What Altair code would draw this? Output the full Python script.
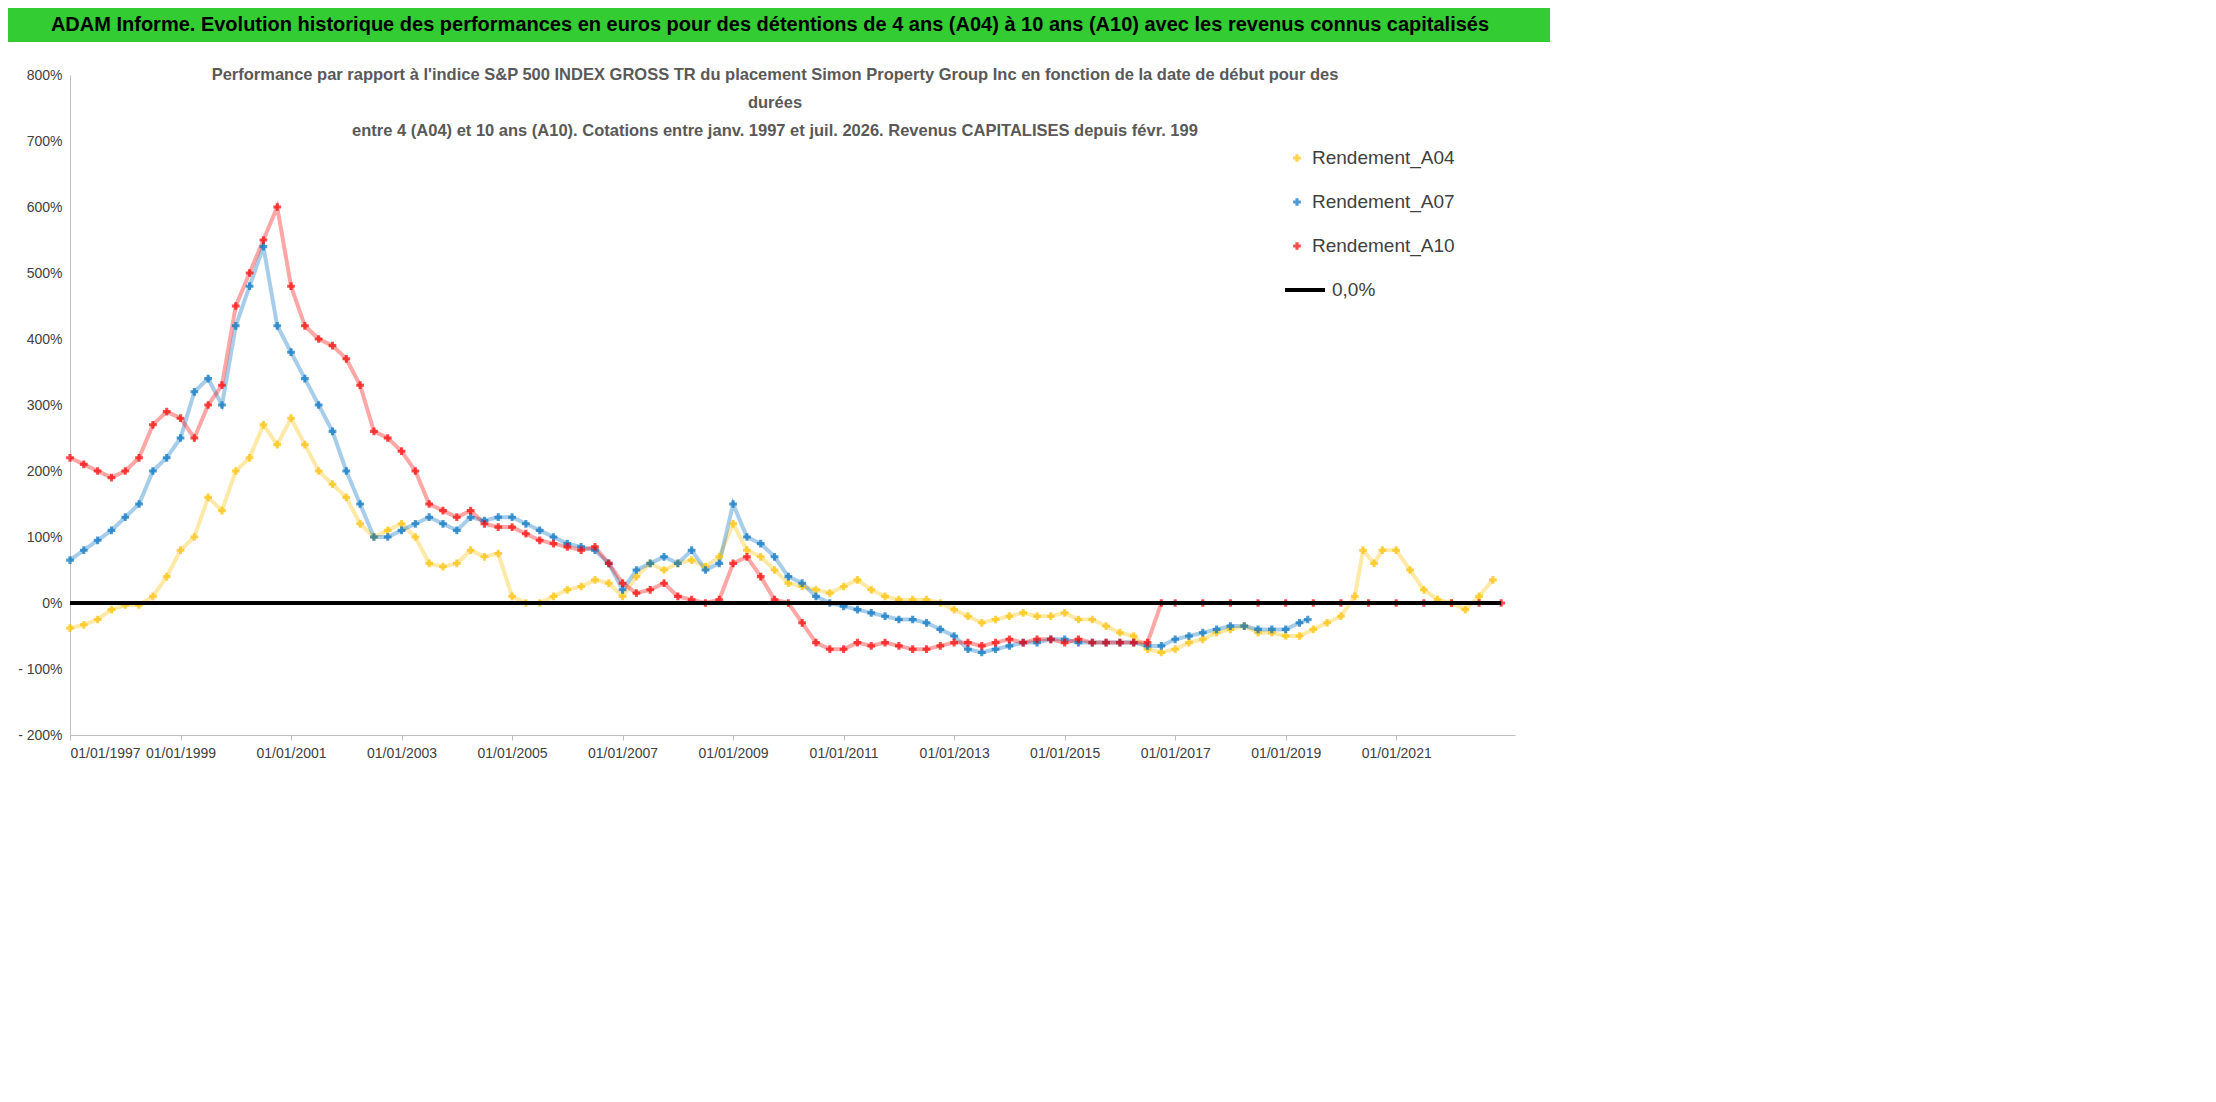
import pandas as pd
import altair as alt

# decimal years and performance values (%)
a04_t = [1997.0, 1997.25, 1997.5, 1997.75, 1998.0, 1998.25, 1998.5, 1998.75, 1999.0, 1999.25, 1999.5, 1999.75,
         2000.0, 2000.25, 2000.5, 2000.75, 2001.0, 2001.25, 2001.5, 2001.75, 2002.0, 2002.25, 2002.5, 2002.75,
         2003.0, 2003.25, 2003.5, 2003.75, 2004.0, 2004.25, 2004.5, 2004.75, 2005.0, 2005.25, 2005.5, 2005.75,
         2006.0, 2006.25, 2006.5, 2006.75, 2007.0, 2007.25, 2007.5, 2007.75, 2008.0, 2008.25, 2008.5, 2008.75,
         2009.0, 2009.25, 2009.5, 2009.75, 2010.0, 2010.25, 2010.5, 2010.75, 2011.0, 2011.25, 2011.5, 2011.75,
         2012.0, 2012.25, 2012.5, 2012.75, 2013.0, 2013.25, 2013.5, 2013.75, 2014.0, 2014.25, 2014.5, 2014.75,
         2015.0, 2015.25, 2015.5, 2015.75, 2016.0, 2016.25, 2016.5, 2016.75, 2017.0, 2017.25, 2017.5, 2017.75,
         2018.0, 2018.25, 2018.5, 2018.75, 2019.0, 2019.25, 2019.5, 2019.75, 2020.0, 2020.25, 2020.4, 2020.6,
         2020.75, 2021.0, 2021.25, 2021.5, 2021.75, 2022.0, 2022.25, 2022.5, 2022.75]
a04_v = [-38, -33, -25, -10, -3, -3, 10, 40, 80, 100, 160, 140,
         200, 220, 270, 240, 280, 240, 200, 180, 160, 120, 100, 110,
         120, 100, 60, 55, 60, 80, 70, 75, 10, 0, 0, 10,
         20, 25, 35, 30, 10, 40, 60, 50, 60, 65, 55, 70,
         120, 80, 70, 50, 30, 25, 20, 15, 25, 35, 20, 10,
         5, 5, 5, 0, -10, -20, -30, -25, -20, -15, -20, -20,
         -15, -25, -25, -35, -45, -50, -70, -75, -70, -60, -55, -45,
         -40, -35, -45, -45, -50, -50, -40, -30, -20, 10, 80, 60,
         80, 80, 50, 20, 5, 0, -10, 10, 35]

a07_t = [1997.0, 1997.25, 1997.5, 1997.75, 1998.0, 1998.25, 1998.5, 1998.75, 1999.0, 1999.25, 1999.5, 1999.75,
         2000.0, 2000.25, 2000.5, 2000.75, 2001.0, 2001.25, 2001.5, 2001.75, 2002.0, 2002.25, 2002.5, 2002.75,
         2003.0, 2003.25, 2003.5, 2003.75, 2004.0, 2004.25, 2004.5, 2004.75, 2005.0, 2005.25, 2005.5, 2005.75,
         2006.0, 2006.25, 2006.5, 2006.75, 2007.0, 2007.25, 2007.5, 2007.75, 2008.0, 2008.25, 2008.5, 2008.75,
         2009.0, 2009.25, 2009.5, 2009.75, 2010.0, 2010.25, 2010.5, 2010.75, 2011.0, 2011.25, 2011.5, 2011.75,
         2012.0, 2012.25, 2012.5, 2012.75, 2013.0, 2013.25, 2013.5, 2013.75, 2014.0, 2014.25, 2014.5, 2014.75,
         2015.0, 2015.25, 2015.5, 2015.75, 2016.0, 2016.25, 2016.5, 2016.75, 2017.0, 2017.25, 2017.5, 2017.75,
         2018.0, 2018.25, 2018.5, 2018.75, 2019.0, 2019.25, 2019.4]
a07_v = [65, 80, 95, 110, 130, 150, 200, 220, 250, 320, 340, 300,
         420, 480, 540, 420, 380, 340, 300, 260, 200, 150, 100, 100,
         110, 120, 130, 120, 110, 130, 125, 130, 130, 120, 110, 100,
         90, 85, 80, 60, 20, 50, 60, 70, 60, 80, 50, 60,
         150, 100, 90, 70, 40, 30, 10, 0, -5, -10, -15, -20,
         -25, -25, -30, -40, -50, -70, -75, -70, -65, -60, -60, -55,
         -55, -60, -60, -60, -60, -60, -65, -65, -55, -50, -45, -40,
         -35, -35, -40, -40, -40, -30, -25]

a10_t = [1997.0, 1997.25, 1997.5, 1997.75, 1998.0, 1998.25, 1998.5, 1998.75, 1999.0, 1999.25, 1999.5, 1999.75,
         2000.0, 2000.25, 2000.5, 2000.75, 2001.0, 2001.25, 2001.5, 2001.75, 2002.0, 2002.25, 2002.5, 2002.75,
         2003.0, 2003.25, 2003.5, 2003.75, 2004.0, 2004.25, 2004.5, 2004.75, 2005.0, 2005.25, 2005.5, 2005.75,
         2006.0, 2006.25, 2006.5, 2006.75, 2007.0, 2007.25, 2007.5, 2007.75, 2008.0, 2008.25, 2008.5, 2008.75,
         2009.0, 2009.25, 2009.5, 2009.75, 2010.0, 2010.25, 2010.5, 2010.75, 2011.0, 2011.25, 2011.5, 2011.75,
         2012.0, 2012.25, 2012.5, 2012.75, 2013.0, 2013.25, 2013.5, 2013.75, 2014.0, 2014.25, 2014.5, 2014.75,
         2015.0, 2015.25, 2015.5, 2015.75, 2016.0, 2016.25, 2016.5,
         2016.75, 2017.0, 2017.5, 2018.0, 2018.5, 2019.0, 2019.5, 2020.0, 2020.5, 2021.0, 2021.5, 2022.0,
         2022.5, 2022.9]
a10_v = [220, 210, 200, 190, 200, 220, 270, 290, 280, 250, 300, 330,
         450, 500, 550, 600, 480, 420, 400, 390, 370, 330, 260, 250,
         230, 200, 150, 140, 130, 140, 120, 115, 115, 105, 95, 90,
         85, 80, 85, 60, 30, 15, 20, 30, 10, 5, 0, 5,
         60, 70, 40, 5, 0, -30, -60, -70, -70, -60, -65, -60,
         -65, -70, -70, -65, -60, -60, -65, -60, -55, -60, -55, -55,
         -60, -55, -60, -60, -60, -60, -60,
         0, 0, 0, 0, 0, 0, 0, 0, 0, 0, 0, 0,
         0, 0]

zero_t = [1997.0, 2022.9]
zero_v = [0, 0]

series = ["Rendement_A04", "Rendement_A07", "Rendement_A10"]
colors = ["#FFC000", "#0070C0", "#FF0000"]

df = pd.concat([
    pd.DataFrame({"t": a04_t, "v": a04_v, "s": series[0]}),
    pd.DataFrame({"t": a07_t, "v": a07_v, "s": series[1]}),
    pd.DataFrame({"t": a10_t, "v": a10_v, "s": series[2]}),
])
zdf = pd.DataFrame({"t": zero_t, "v": zero_v})

FONT = "Liberation Sans"
W, H = 1445, 660

xs = alt.X("t:Q", scale=alt.Scale(domain=[1997, 2023.15], nice=False),
           axis=alt.Axis(values=list(range(1997, 2023, 2)), labelExpr="'01/01/' + datum.value",
                         title=None, grid=False, labelFontSize=14, labelColor="#404040",
                         domainColor="#bfbfbf", tickColor="#bfbfbf", labelPadding=6))
ys = alt.Y("v:Q", scale=alt.Scale(domain=[-200, 800], nice=False),
           axis=alt.Axis(values=list(range(-200, 801, 100)),
                         labelExpr="datum.value < 0 ? '- ' + abs(datum.value) + '%' : datum.value + '%'",
                         title=None, grid=False, labelFontSize=14, labelColor="#404040",
                         domainColor="#bfbfbf", ticks=False, labelPadding=8))
cs = alt.Color("s:N", scale=alt.Scale(domain=series, range=colors), legend=None)

lines = alt.Chart(df).mark_line(strokeWidth=4, opacity=0.35).encode(x=xs, y=ys, color=cs, detail="s:N")
pts = alt.Chart(df).mark_point(shape="cross", filled=True, size=60).encode(x=xs, y=ys, color=cs)
zero = alt.Chart(zdf).mark_line(color="black", strokeWidth=4).encode(x="t:Q", y="v:Q")

one = pd.DataFrame({"k": [0]})

# header bar and in-plot title
bar = alt.Chart(one).mark_rect(color="#33CC33").encode(
    x=alt.value(-62), x2=alt.value(1480), y=alt.value(-67), y2=alt.value(-33))
hdr_txt = alt.Chart(one).mark_text(
    text="ADAM Informe. Evolution historique des performances en euros pour des détentions de 4 ans (A04) à 10 ans (A10) avec les revenus connus capitalisés",
    font=FONT, fontSize=20, fontWeight="bold", color="black", align="center", baseline="middle"
).encode(x=alt.value(700), y=alt.value(-50))

sub_lines = ["Performance par rapport à l'indice S&P 500 INDEX GROSS TR  du placement Simon Property Group Inc en fonction de la date de début pour des",
             "durées",
             "entre 4 (A04) et 10 ans (A10). Cotations entre janv. 1997 et juil. 2026. Revenus CAPITALISES depuis févr. 199"]
sub_y = [0, 28, 56]
sub_txt = [alt.Chart(one).mark_text(text=s, font=FONT, fontSize=16.5, fontWeight="bold", color="#595959",
                                    align="center", baseline="middle").encode(x=alt.value(705), y=alt.value(yy))
           for s, yy in zip(sub_lines, sub_y)]

# legend
leg_y = [83, 127, 171, 215]
leg_bg = alt.Chart(one).mark_rect(color="white").encode(
    x=alt.value(1210), x2=alt.value(1430), y=alt.value(60), y2=alt.value(240))
leg = []
for s, c, yy in zip(series, colors, leg_y):
    leg.append(alt.Chart(one).mark_point(shape="cross", filled=True, size=60, color=c).encode(
        x=alt.value(1227), y=alt.value(yy)))
    leg.append(alt.Chart(one).mark_text(text=s, font=FONT, fontSize=19, align="left", baseline="middle",
                                        color="#404040").encode(x=alt.value(1242), y=alt.value(yy)))
leg.append(alt.Chart(one).mark_rule(color="black", strokeWidth=4).encode(
    x=alt.value(1215), x2=alt.value(1255), y=alt.value(leg_y[3])))
leg.append(alt.Chart(one).mark_text(text="0,0%", font=FONT, fontSize=19, align="left", baseline="middle",
                                    color="#404040").encode(x=alt.value(1262), y=alt.value(leg_y[3])))

chart = alt.layer(
    bar, hdr_txt, lines, pts, zero, *sub_txt, leg_bg, *leg
).properties(
    width=W, height=H, padding=0
).configure_view(stroke=None).configure_axis(labelFont=FONT)

chart.save("out.html", embed_options={"renderer": "svg", "actions": False})
